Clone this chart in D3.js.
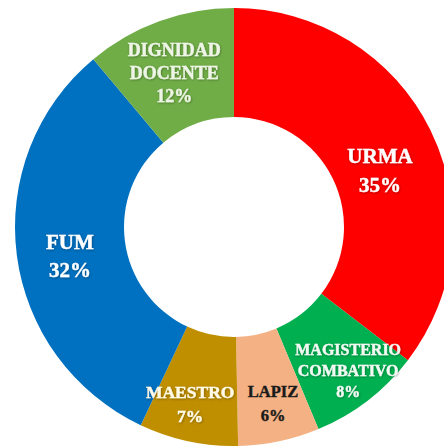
<!DOCTYPE html>
<html>
<head>
<meta charset="utf-8">
<script src="https://cdn.jsdelivr.net/npm/d3@7"></script>
<style>
  body { margin: 0; background: #fff; }
  svg { display: block; }
</style>
</head>
<body>
<div id="chart"></div>
<script>
// data (clockwise from 12 o'clock)
var names = ["URMA", "MAGISTERIO COMBATIVO", "LAPIZ", "MAESTRO", "FUM", "DIGNIDAD DOCENTE"]
var values = [35.4, 8.3, 6.0, 7.3, 31.9, 11.1]
// percentages as printed on the slices
var pctText = ["35%", "8%", "6%", "7%", "32%", "12%"]
var colors = ["#ff0000", "#00b050", "#f4b183", "#bf8f00", "#0070c0", "#70ad47"]

var width = 444,
    height = 446,
    cx = 234,
    cy = 227,
    outer = 219,
    inner = 110

// label look, one entry per slice
var labelSize = [21, 16, 16.5, 17.5, 21, 18]
var labelLine = [29, 21, 24, 24, 28, 23]
var labelColor = ["#fff", "#f4f9f4", "#1a1a1a", "#fffbe8", "#fff", "#eef5e6"]
var labelNudge = [[-1, 18], [9, 17], [-2, 17], [-18, 14], [-2, -2], [1, -1]]
var labelAt = [63, 140.4, 165.6, 189, 259.2, 338.4] // degrees, where the text block sits

var data = names.map(function(n, i) { return { name: n, value: values[i], pct: pctText[i], i: i } })

var pie = d3.pie().sort(null).value(function(d) { return d.value })
var slices = pie(data)

var arc = d3.arc().innerRadius(inner).outerRadius(outer)

var svg = d3.select("#chart").append("svg")
    .attr("width", width)
    .attr("height", height)

var defs = svg.append("defs")
defs.append("filter").attr("id", "glow")
    .attr("x", "-20%").attr("y", "-20%").attr("width", "140%").attr("height", "140%")
  .append("feDropShadow")
    .attr("dx", 0.6).attr("dy", 0.8).attr("stdDeviation", 1)
    .attr("flood-color", "#000").attr("flood-opacity", 0.35)

var g = svg.append("g").attr("transform", "translate(" + cx + "," + cy + ")")

g.selectAll("path.slice")
  .data(slices)
  .enter()
  .append("path")
    .attr("class", "slice")
    .attr("d", arc)
    .attr("fill", function(d) { return colors[d.data.i] })

var labels = g.selectAll("text.lbl")
  .data(slices)
  .enter()
  .append("text")
    .attr("class", "lbl")
    .attr("text-anchor", "middle")
    .style("font-family", "'Liberation Serif', 'Times New Roman', serif")
    .style("font-weight", "bold")
    .style("font-size", function(d) { return labelSize[d.data.i] + "px" })
    .attr("fill", function(d) { return labelColor[d.data.i] })
    .attr("stroke", function(d) { return labelColor[d.data.i] })
    .attr("stroke-width", 0.4)
    .attr("filter", function(d) { return d.data.i == 2 ? null : "url(#glow)" })

labels.each(function(d) {
    var i = d.data.i
    var lines = d.data.name.split(" ").concat([d.data.pct])
    var c = d3.pointRadial(labelAt[i] * Math.PI / 180, 165)
    var x = c[0] + labelNudge[i][0]
    var mid = c[1] + labelNudge[i][1]
    var cap = labelSize[i] * 0.66
    var blockH = cap + (lines.length - 1) * labelLine[i]
    var first = mid - blockH / 2 + cap
    var t = d3.select(this)
    lines.forEach(function(s, k) {
        t.append("tspan")
            .attr("x", x)
            .attr("y", first + k * labelLine[i])
            .text(s)
    })
})
</script>
</body>
</html>
